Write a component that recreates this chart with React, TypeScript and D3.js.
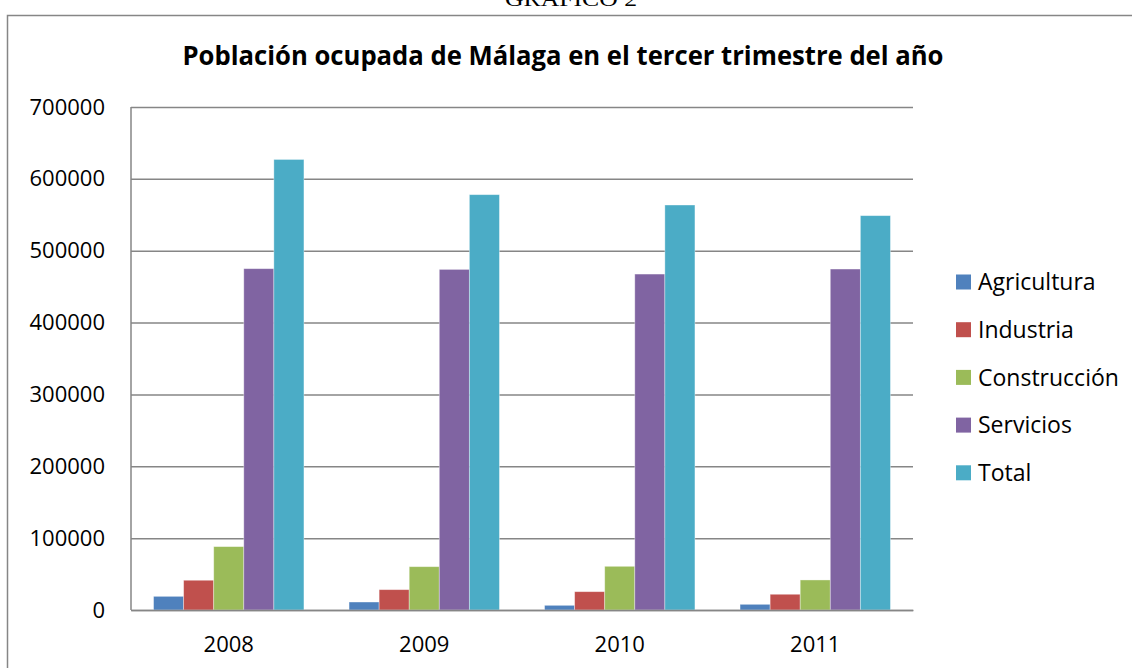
import React, { useEffect, useRef } from 'react'
import * as d3 from 'd3'

const years = ['2008', '2009', '2010', '2011']
const seriesNames = ['Agricultura', 'Industria', 'Construcción', 'Servicios', 'Total']
const agricultura = [19000, 11100, 6500, 7900]
const industria = [41400, 28300, 25500, 21900]
const construccion = [88200, 60300, 60800, 41800]
const servicios = [475000, 474000, 467500, 474500]
const total = [627000, 578000, 563600, 548800]
const yTicks = [0, 100000, 200000, 300000, 400000, 500000, 600000, 700000]
const colors = ['#4F81BD', '#C0504D', '#9BBB59', '#8064A2', '#4BACC6']

const W = 1132
const H = 668
const plot = { left: 131, right: 913, top: 107, bottom: 610 }
const font = '"Open Sans", "Noto Sans", sans-serif'

function App() {
  const ref = useRef<SVGSVGElement>(null)

  useEffect(() => {
    const svg = d3.select(ref.current)
    svg.selectAll('*').remove()
    const values = [agricultura, industria, construccion, servicios, total]

    // outer frame of the chart (cut by the page edges)
    svg.append('rect')
      .attr('x', 7.5).attr('y', 15.5)
      .attr('width', W + 20).attr('height', H + 20)
      .attr('fill', '#fff').attr('stroke', '#868686').attr('stroke-width', 1.5)

    // page caption above the chart, cut at the top like in the document
    svg.append('text')
      .attr('x', 571).attr('y', 6)
      .attr('text-anchor', 'middle')
      .attr('textLength', 132).attr('lengthAdjust', 'spacingAndGlyphs')
      .style('font-family', '"Liberation Serif", "DejaVu Serif", serif')
      .style('font-size', '21px')
      .text('GRAFICO 2')

    svg.append('text')
      .attr('x', 563).attr('y', 65)
      .attr('text-anchor', 'middle')
      .attr('textLength', 761).attr('lengthAdjust', 'spacingAndGlyphs')
      .style('font-family', font).style('font-weight', 'bold')
      .style('font-size', '27px')
      .text('Población ocupada de Málaga en el tercer trimestre del año')

    const x0 = d3.scaleBand<string>().domain(years).range([plot.left, plot.right]).padding(0)
    const x1 = d3.scaleBand<string>().domain(seriesNames).range([0, x0.bandwidth()])
      .paddingInner(0).paddingOuter(0.75)
    const y = d3.scaleLinear().domain([0, 700000]).range([plot.bottom, plot.top])

    const yAxis = d3.axisLeft(y).tickValues(yTicks).tickSize(-(plot.right - plot.left))
      .tickFormat(d => String(d)).tickPadding(26)
    const gy = svg.append('g').attr('transform', `translate(${plot.left},0)`).call(yAxis)
    gy.select('.domain').remove()
    gy.selectAll('line').attr('stroke', '#868686').attr('stroke-width', 1.5)
    gy.selectAll('text')
      .style('font-family', font).style('font-size', '22px').attr('fill', '#000')

    // left axis line
    svg.append('line')
      .attr('x1', plot.left).attr('x2', plot.left)
      .attr('y1', plot.top).attr('y2', plot.bottom)
      .attr('stroke', '#868686').attr('stroke-width', 1.5)

    const groups = svg.append('g').selectAll('g').data(years).join('g')
      .attr('transform', d => `translate(${x0(d)},0)`)
    groups.selectAll('rect')
      .data((d, i) => seriesNames.map((s, k) => ({ s, k, v: values[k][i] })))
      .join('rect')
      .attr('x', d => x1(d.s)!)
      .attr('width', x1.bandwidth())
      .attr('y', d => y(d.v))
      .attr('height', d => y(0) - y(d.v))
      .attr('fill', d => colors[d.k])
      .attr('stroke', 'rgba(255,255,255,0.45)').attr('stroke-width', 0.8)

    // bottom axis
    const xAxis = d3.axisBottom(x0).tickSize(0).tickPadding(26)
    const gx = svg.append('g').attr('transform', `translate(0,${plot.bottom})`).call(xAxis)
    gx.select('.domain').attr('stroke', '#868686').attr('stroke-width', 1.5)
    gx.selectAll('text')
      .style('font-family', font).style('font-size', '22px').attr('fill', '#000')

    // legend
    const legend = svg.append('g').selectAll('g').data(seriesNames).join('g')
      .attr('transform', (d, i) => `translate(956,${282 + i * 47.7})`)
    legend.append('rect')
      .attr('x', 0).attr('y', -7.5).attr('width', 15).attr('height', 15)
      .attr('fill', (d, i) => colors[i])
    legend.append('text')
      .attr('x', 22).attr('y', 0).attr('dy', '0.36em')
      .style('font-family', font).style('font-size', '23px')
      .text(d => d)
  }, [])

  return (
    <div style={{ position: 'absolute', left: 0, top: 0, width: W, height: H, overflow: 'hidden' }}>
      <svg ref={ref} width={W} height={H} style={{ display: 'block', background: '#fff' }} />
    </div>
  )
}

export default App
